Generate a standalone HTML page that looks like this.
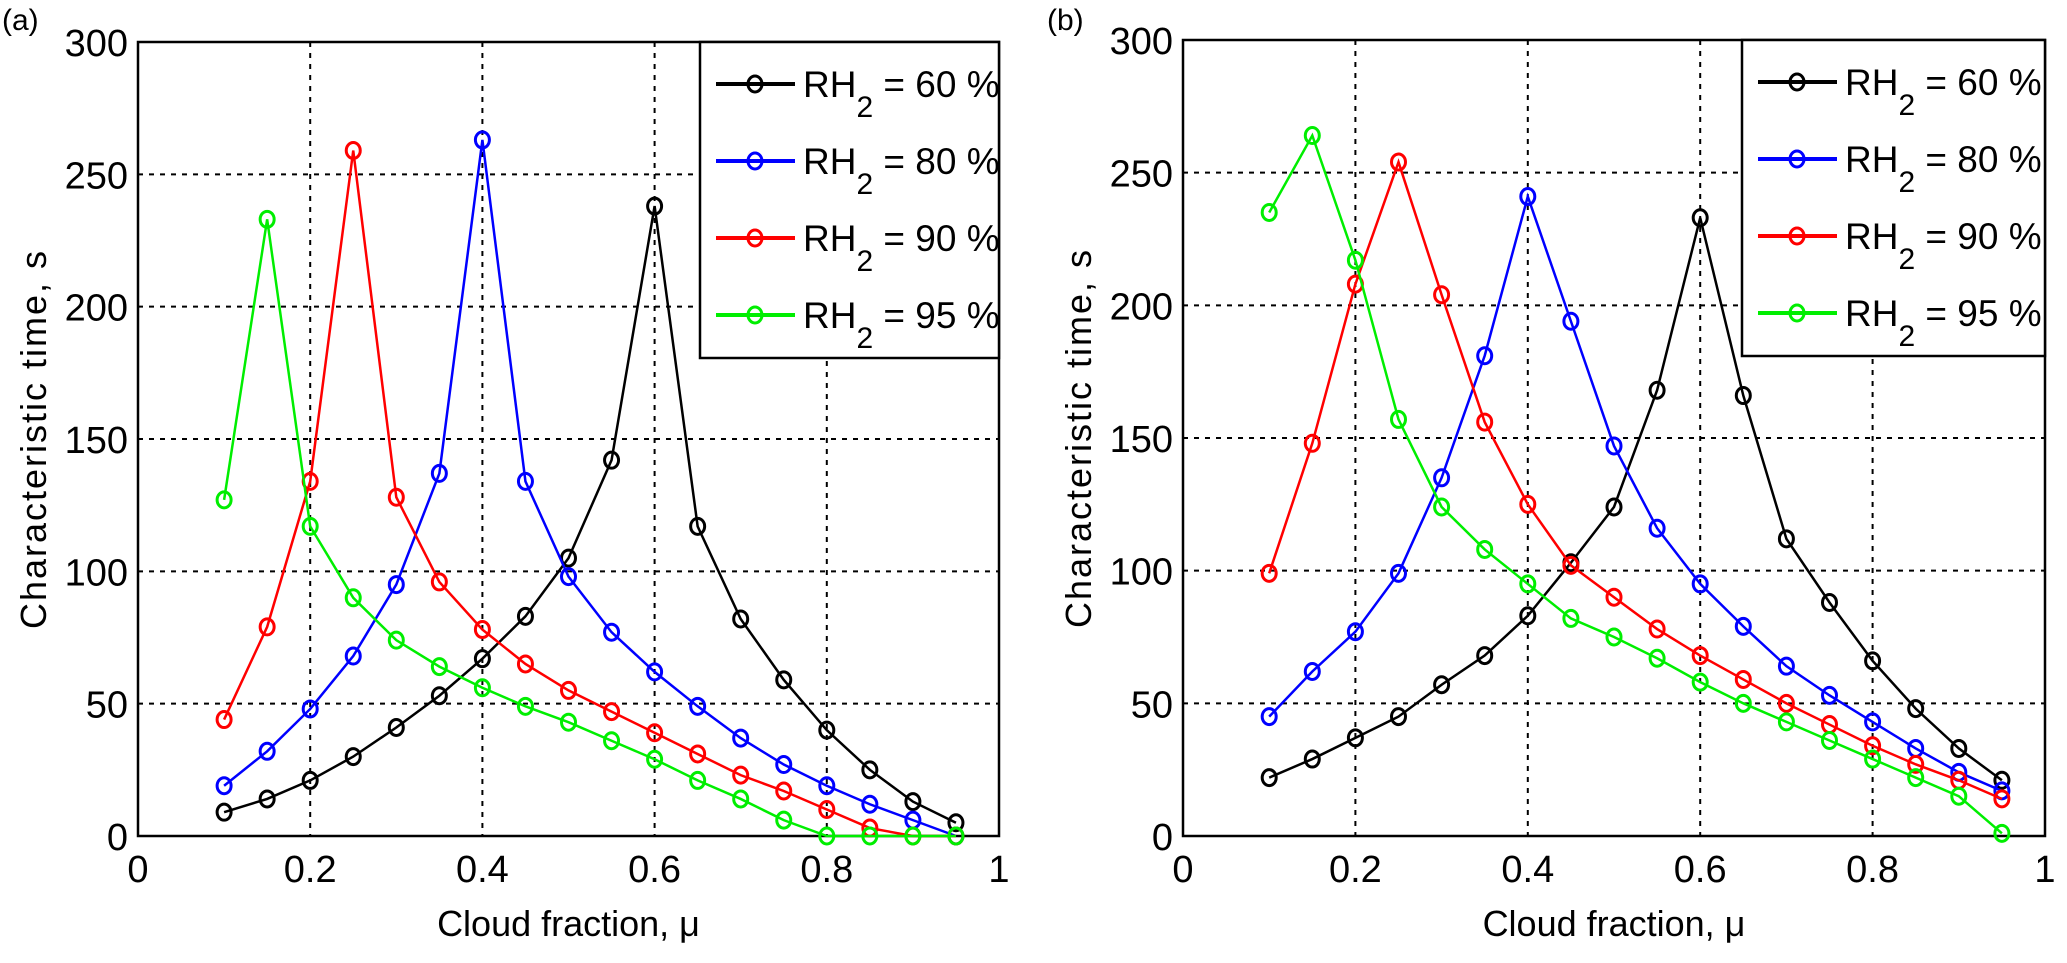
<!DOCTYPE html>
<html><head><meta charset="utf-8">
<style>
html,body{margin:0;padding:0;background:#fff;}
svg{display:block;font-family:"Liberation Sans",Arial,sans-serif;}
</style></head>
<body>
<svg id="fig" width="2067" height="963" viewBox="0 0 2067 963" xmlns="http://www.w3.org/2000/svg">
<rect x="0" y="0" width="2067" height="963" fill="#fff"/>
</svg>
<script>
const xs = [0.1,0.15,0.2,0.25,0.3,0.35,0.4,0.45,0.5,0.55,0.6,0.65,0.7,0.75,0.8,0.85,0.9,0.95];
const xTicks = [0,0.2,0.4,0.6,0.8,1];
const xTickLabels = ["0","0.2","0.4","0.6","0.8","1"];
const yTicks = [0,50,100,150,200,250,300];
const seriesNames = ["60","80","90","95"];
const seriesColors = ["#000000","#0000ff","#ff0000","#00ee00"];
const a60 = [9,14,21,30,41,53,67,83,105,142,238,117,82,59,40,25,13,5];
const a80 = [19,32,48,68,95,137,263,134,98,77,62,49,37,27,19,12,6,0];
const a90 = [44,79,134,259,128,96,78,65,55,47,39,31,23,17,10,3,0,0];
const a95 = [127,233,117,90,74,64,56,49,43,36,29,21,14,6,0,0,0,0];
const b60 = [22,29,37,45,57,68,83,103,124,168,233,166,112,88,66,48,33,21];
const b80 = [45,62,77,99,135,181,241,194,147,116,95,79,64,53,43,33,24,17];
const b90 = [99,148,208,254,204,156,125,102,90,78,68,59,50,42,34,27,21,14];
const b95 = [235,264,217,157,124,108,95,82,75,67,58,50,43,36,29,22,15,1];

const NS="http://www.w3.org/2000/svg";
const svg=document.getElementById('fig');
function mk(tag,attrs,parent){const e=document.createElementNS(NS,tag);for(const k in attrs)e.setAttribute(k,attrs[k]);(parent||svg).appendChild(e);return e;}

function panel(id,label,L,R,T,B,series,lg){
  const g=mk('g',{});
  
  
  const sx=v=>L+(R-L)*v, sy=v=>B-(B-T)*v/300;
  // grid
  xTicks.forEach((t,i)=>{
    if(i>0&&i<xTicks.length-1){const l=mk('line',{x1:sx(t),x2:sx(t),y1:T,y2:B,stroke:'#000','stroke-width':2,'stroke-dasharray':'5,6'},g);
    }
    const tx=mk('text',{x:sx(t),y:B+46,'font-size':38,'text-anchor':'middle',fill:'#000'},g);
    tx.textContent=xTickLabels[i];
    
  });
  yTicks.forEach(t=>{
    if(t>0){const l=mk('line',{x1:L,x2:R,y1:sy(t),y2:sy(t),stroke:'#000','stroke-width':2,'stroke-dasharray':'5,6'},g);
    }
    const tx=mk('text',{x:L-10,y:sy(t)+14,'font-size':38,'text-anchor':'end',fill:'#000'},g);
    tx.textContent=String(t);
    
  });
  // axes box
  const box=mk('rect',{x:L,y:T,width:R-L,height:B-T,fill:'none',stroke:'#000','stroke-width':2.5},g);
  
  // series
  series.forEach((vals,si)=>{
    const sg=mk('g',{},g);
    
    
    const pts=vals.map((v,i)=>sx(xs[i])+','+sy(v)).join(' ');
    mk('polyline',{points:pts,fill:'none',stroke:seriesColors[si],'stroke-width':2.5},sg);
    vals.forEach((v,i)=>{
      const c=mk('ellipse',{cx:sx(xs[i]),cy:sy(v),rx:7,ry:8,fill:'none',stroke:seriesColors[si],'stroke-width':3},sg);
      
    });
  });
  // labels
  const xl=mk('text',{x:(L+R)/2,y:B+100,'font-size':36,'text-anchor':'middle',fill:'#000'},g);
  xl.textContent='Cloud fraction, μ';
  
  const yx=L-92, yc=(T+B)/2;
  const yl=mk('text',{x:yx,y:yc,'font-size':36,'text-anchor':'middle',fill:'#000','letter-spacing':'2',transform:`rotate(-90 ${yx} ${yc})`},g);
  yl.textContent='Characteristic time, s';
  
  const pl=mk('text',{x:L-136,y:30,'font-size':30,fill:'#000'},g);
  pl.textContent=label;
  
  // legend
  const lgG=mk('g',{},g);
  
  mk('rect',{x:lg,y:T,width:R-lg,height:316,fill:'#fff',stroke:'#000','stroke-width':2.5},lgG);
  seriesNames.forEach((n,i)=>{
    const e=mk('g',{},lgG);
    
    const y=T+42+i*77;
    mk('line',{x1:lg+16,x2:lg+95,y1:y,y2:y,stroke:seriesColors[i],'stroke-width':4},e);
    mk('ellipse',{cx:lg+55,cy:y,rx:7,ry:8,fill:'none',stroke:seriesColors[i],'stroke-width':3},e);
    const t=mk('text',{x:lg+103,y:y+13,'font-size':37,fill:'#000'},e);
    t.innerHTML='RH<tspan font-size="30" dy="20">2</tspan><tspan dy="-20"> = '+n+' %</tspan>';
  });
}
panel('a','(a)',138,999,42,836,[a60,a80,a90,a95],700);
panel('b','(b)',1183,2045,40,836,[b60,b80,b90,b95],1742);
</script>
</body></html>
